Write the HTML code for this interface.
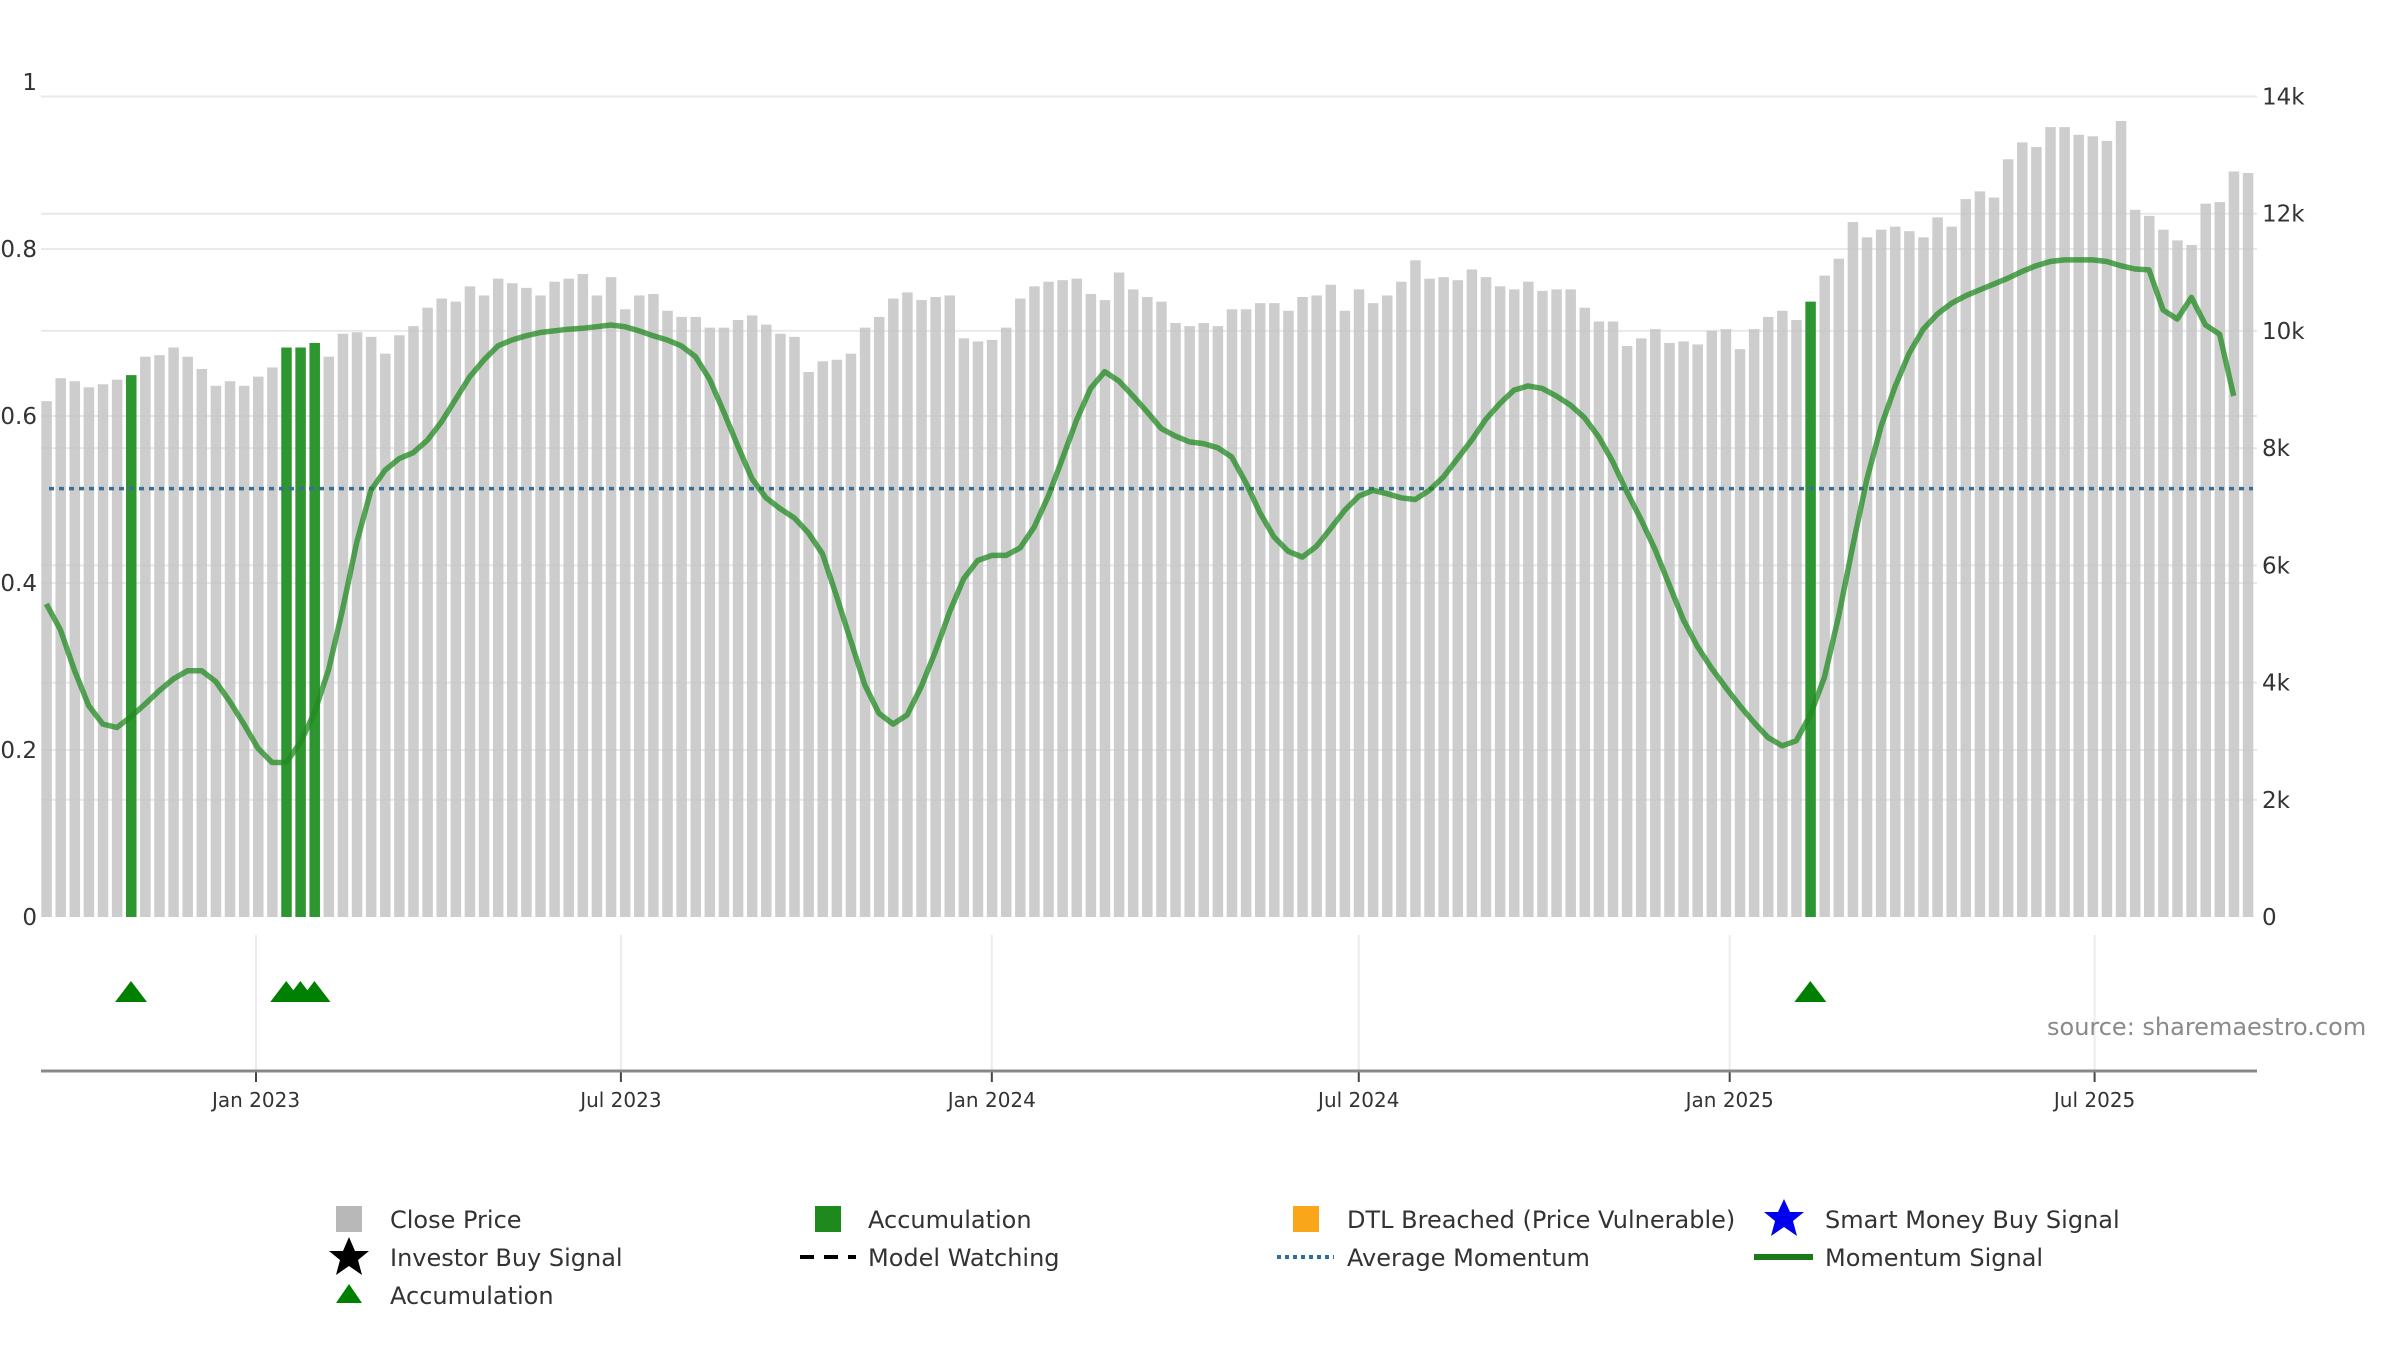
<!DOCTYPE html>
<html><head><meta charset="utf-8"><style>
html,body{margin:0;padding:0;background:#fff;}
svg{display:block;font-family:"DejaVu Sans","Liberation Sans",sans-serif;}
</style></head><body>
<svg id="chart" width="2400" height="1350" viewBox="0 0 2400 1350" xmlns="http://www.w3.org/2000/svg">
<g id="grid"></g>
<g id="bars"></g>
<g id="avg"></g>
<g id="mom"></g>
<g id="tri"></g>
<g id="axes"></g>
<text x="2047" y="1035" font-size="24" fill="#8a8a8a">source: sharemaestro.com</text>
<g id="legend">
  <rect x="336" y="1206" width="26" height="26" fill="#b8b8b8"/>
  <text x="390" y="1228" font-size="24" fill="#333">Close Price</text>
  <rect x="815" y="1206" width="26" height="26" fill="#1e8a1e"/>
  <text x="868" y="1228" font-size="24" fill="#333">Accumulation</text>
  <rect x="1293" y="1206" width="26" height="26" fill="#faa61a"/>
  <text x="1347" y="1228" font-size="24" fill="#333">DTL Breached (Price Vulnerable)</text>
  <polygon points="1784,1199 1790,1212 1804,1212 1793,1221 1797,1236 1784,1227 1771,1236 1775,1221 1764,1212 1778,1212" fill="#0000ee"/>
  <text x="1825" y="1228" font-size="24" fill="#333">Smart Money Buy Signal</text>
  <polygon points="349,1237 355,1251 369,1251 358,1260 362,1275 349,1266 336,1275 340,1260 329,1251 343,1251" fill="#000"/>
  <text x="390" y="1266" font-size="24" fill="#333">Investor Buy Signal</text>
  <line x1="800" y1="1257" x2="856" y2="1257" stroke="#000" stroke-width="4" stroke-dasharray="14,10"/>
  <text x="868" y="1266" font-size="24" fill="#333">Model Watching</text>
  <line x1="1277" y1="1257" x2="1334" y2="1257" stroke="#2f6f9f" stroke-width="4" stroke-dasharray="4,4"/>
  <text x="1347" y="1266" font-size="24" fill="#333">Average Momentum</text>
  <line x1="1754" y1="1257" x2="1813" y2="1257" stroke="#1a7a1a" stroke-width="6"/>
  <text x="1825" y="1266" font-size="24" fill="#333">Momentum Signal</text>
  <polygon points="349,1284 362,1303 336,1303" fill="#008000"/>
  <text x="390" y="1304" font-size="24" fill="#333">Accumulation</text>
</g>
</svg>
<script>
const startDate = "2022-09-19";
const closePrices = [8802,9194,9142,9038,9090,9168,9246,9560,9586,9717,9560,9351,9064,9142,9064,9220,9377,9717,9717,9795,9560,9952,9978,9899,9612,9926,10082,10396,10552,10500,10761,10605,10892,10814,10735,10605,10840,10892,10970,10605,10918,10370,10605,10631,10344,10239,10239,10056,10056,10187,10265,10108,9952,9899,9299,9482,9508,9612,10056,10239,10552,10657,10526,10579,10605,9873,9821,9847,10056,10552,10761,10840,10866,10892,10631,10526,10997,10709,10579,10500,10135,10082,10135,10082,10370,10370,10474,10474,10344,10579,10605,10788,10344,10709,10474,10605,10840,11205,10892,10918,10866,11049,10918,10761,10709,10840,10683,10709,10709,10396,10161,10161,9743,9873,10030,9795,9821,9769,10004,10030,9690,10030,10239,10344,10187,10500,10944,11232,11858,11597,11728,11780,11702,11597,11937,11780,12250,12381,12276,12929,13217,13138,13478,13478,13347,13321,13243,13582,12067,11963,11728,11545,11467,12172,12198,12720,12694];
const momentum = [.375,.344,.295,.253,.231,.227,.240,.255,.271,.285,.295,.295,.282,.258,.231,.202,.185,.185,.209,.245,.296,.369,.449,.511,.535,.549,.556,.571,.593,.620,.647,.667,.684,.691,.696,.700,.702,.704,.705,.707,.709,.707,.702,.696,.691,.684,.671,.644,.605,.564,.525,.502,.489,.478,.460,.435,.384,.331,.278,.244,.231,.242,.276,.318,.365,.405,.427,.433,.433,.442,.467,.504,.549,.595,.633,.653,.642,.624,.605,.585,.576,.569,.567,.562,.551,.520,.484,.455,.438,.431,.444,.465,.487,.504,.511,.507,.502,.500,.511,.527,.549,.571,.596,.615,.631,.636,.633,.624,.613,.598,.575,.545,.509,.476,.440,.398,.356,.324,.298,.275,.253,.233,.215,.205,.211,.242,.287,.360,.444,.524,.587,.635,.675,.704,.722,.735,.744,.751,.758,.765,.773,.780,.785,.787,.787,.787,.785,.780,.776,.775,.727,.716,.742,.709,.698,.624];
const accumulationIdx = [6,17,18,19,125];
const avgMomentum = 0.513;
const leftTicks = [0,0.2,0.4,0.6,0.8,1];
const leftTickLabels = ["0","0.2","0.4","0.6","0.8","1"];
const rightTicks = [0,2000,4000,6000,8000,10000,12000,14000];
const rightTickLabels = ["0","2k","4k","6k","8k","10k","12k","14k"];
const xTickDates = ["2023-01-01","2023-07-01","2024-01-01","2024-07-01","2025-01-01","2025-07-01"];
const xTickLabels = ["Jan 2023","Jul 2023","Jan 2024","Jul 2024","Jan 2025","Jul 2025"];

const NS="http://www.w3.org/2000/svg";
const PL=41, PR=2257, Y0=917;
const ref=Date.UTC(2023,0,1);
function dayOf(s){const p=s.split("-");return (Date.UTC(+p[0],+p[1]-1,+p[2])-ref)/86400000;}
function xDay(d){return 256+d*2.016;}
function yR(v){return Y0-v*(Y0-96.5)/14000;}
function yL(v){return Y0-v*835;}
const d0=dayOf(startDate);
function xIdx(i){return xDay(d0+7*i);}
function mk(tag,attrs,parent){const e=document.createElementNS(NS,tag);for(const k in attrs)e.setAttribute(k,attrs[k]);parent.appendChild(e);return e;}

const grid=document.getElementById("grid"), axes=document.getElementById("axes");
rightTicks.forEach((t,i)=>{
  const y=yR(t);
  if(t>0){const g=mk("line",{x1:PL,x2:PR,y1:y,y2:y,stroke:"#e8e8ee","stroke-width":2},grid);
  
  }
  const tx=mk("text",{x:2262,y:y+8,"font-size":23,fill:"#333"},axes);
  tx.textContent=rightTickLabels[i];
  
  
});
leftTicks.forEach((t,i)=>{
  const y=yL(t);
  if(t>0&&t<1){const g=mk("line",{x1:PL,x2:PR,y1:y,y2:y,stroke:"#e8e8ee","stroke-width":2},grid);
  
  }
  const tx=mk("text",{x:37,y:y+8,"font-size":23,fill:"#333","text-anchor":"end"},axes);
  tx.textContent=leftTickLabels[i];
  
  
});
xTickDates.forEach((d,i)=>{
  const x=xDay(dayOf(d));
  const g=mk("line",{x1:x,x2:x,y1:935,y2:1071,stroke:"#ececf0","stroke-width":2},grid);
  
  
  const tk=mk("line",{x1:x,x2:x,y1:1071,y2:1082,stroke:"#444","stroke-width":2},axes);
  
  
  const tx=mk("text",{x:x,y:1107,"font-size":20,fill:"#333","text-anchor":"middle"},axes);
  tx.textContent=xTickLabels[i];
  
  
});
const ax=mk("line",{x1:PL,x2:PR,y1:1071,y2:1071,stroke:"#888","stroke-width":3},axes);



const bars=document.getElementById("bars");
closePrices.forEach((v,i)=>{
  const acc=accumulationIdx.includes(i);
  const x=xIdx(i), y=yR(v);
  const r=mk("rect",{x:x-5,y:y,width:10.5,height:Y0-y,fill:acc?"#2e9630":"#c4c4c4","fill-opacity":acc?1:0.85},bars);
  
  
});

const avgG=document.getElementById("avg");
const al=mk("line",{x1:PL+8,x2:PR-4,y1:yL(avgMomentum),y2:yL(avgMomentum),stroke:"#3a7096","stroke-width":3.5,"stroke-dasharray":"5,5"},avgG);



const momG=document.getElementById("mom");
const pts=momentum.map((m,i)=>xIdx(i).toFixed(1)+","+yL(m).toFixed(1)).join(" ");
const pl=mk("polyline",{points:pts,fill:"none",stroke:"#228b22","stroke-opacity":0.75,"stroke-width":5.5,"stroke-linejoin":"round"},momG);



const triG=document.getElementById("tri");
accumulationIdx.forEach(i=>{
  const x=xIdx(i), y=992;
  const t=mk("polygon",{points:`${x},${y-11} ${x+16},${y+10} ${x-16},${y+10}`,fill:"#008000"},triG);
  
  
});
</script>
</body></html>
